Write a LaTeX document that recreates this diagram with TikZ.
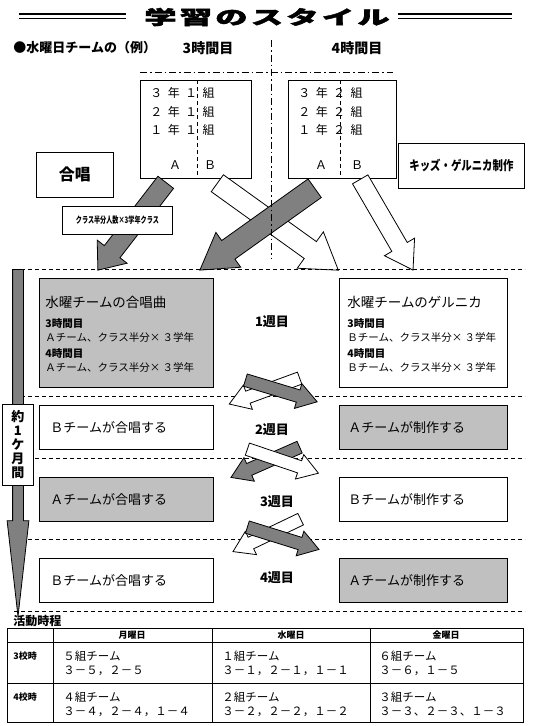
\documentclass[tikz,border=0pt]{standalone}
\usepackage{fontspec}
\setmainfont{Noto Sans CJK JP}
\usetikzlibrary{shapes.arrows}

\definecolor{darkfill}{HTML}{808080}
\definecolor{lightfill}{HTML}{C0C0C0}

\begin{document}
\begin{tikzpicture}[x=1pt,y=-1pt,line width=0.8pt,
	box/.style={draw, fill=white, anchor=north west, inner sep=0pt},
	weekbox/.style={box, minimum height=44pt, align=left, font=\fontsize{13}{13}\selectfont},
	blockarr/.style={single arrow, draw, inner xsep=0pt, anchor=tail},
	pairarr/.style={blockarr, inner ysep=6pt, single arrow head extend=6.5pt, single arrow tip angle=66, minimum height=75pt},
	sep/.style={dash pattern=on 4pt off 3pt},
	axis/.style={dash pattern=on 7pt off 3pt on 1.5pt off 3pt},
	hd/.style={font=\bfseries\fontsize{13}{13}\selectfont},
	cls/.style={anchor=west, inner sep=0pt, font=\fontsize{12}{12}\selectfont\addfontfeatures{LetterSpace=45}},
	sm/.style={anchor=west, inner sep=0pt, font=\fontsize{10.5}{10.5}\selectfont},
	smb/.style={anchor=west, inner sep=0pt, font=\bfseries\fontsize{10.5}{10.5}\selectfont},
	cell/.style={anchor=west, inner sep=0pt, font=\fontsize{11.5}{11.5}\selectfont}]
	\useasboundingbox (0,0) rectangle (535,726);
	\fill[white] (0,0) rectangle (535,726);

	% title
	\node[font=\bfseries\fontsize{19}{19}\selectfont] (title) at (267,17) {\scalebox{1.7}[1]{\addfontfeatures{LetterSpace=10,FakeBold=2}学習のスタイル}};
	\foreach \a/\b in {19/126,398/512}{
		\draw[line width=2pt] (\a,14) -- (\b,14);
		\draw (\a,18) -- (\b,18);
	}
	\node[hd, anchor=west, inner sep=0pt] (ex) at (13,48) {●水曜日チームの（例）};
	\node[hd, font=\bfseries\fontsize{14}{14}\selectfont] (p3) at (208,48) {3時間目};
	\node[hd, font=\bfseries\fontsize{14}{14}\selectfont] (p4) at (357,48) {4時間目};

	% classes
	\node[box, minimum width=111pt, minimum height=98pt] (c1) at (140,80) {};
	\node[box, minimum width=108pt, minimum height=98pt] (c2) at (288,80) {};
	\draw[sep] (197,80) -- (197,178);
	\draw[sep] (340,80) -- (340,178);
	\foreach \g/\y in {３/93,２/112,１/130}{
		\node[cls] (k\y) at (150,\y) {\g 年１組};
		\node[cls] (m\y) at (298,\y) {\g 年２組};
	}
	\foreach \x/\t in {175/Ａ,210/Ｂ,321/Ａ,357/Ｂ}
		\node[font=\fontsize{12}{12}\selectfont] (ab\x) at (\x,165) {\t};

	\node[box, minimum width=77pt, minimum height=45pt, font=\bfseries\fontsize{16}{16}\selectfont] (chorus) at (36,152) {合唱};
	\node[box, minimum width=126pt, minimum height=45pt, font=\bfseries\fontsize{13}{13}\selectfont] (kids) at (398,143) {\scalebox{0.8}[1]{キッズ・ゲルニカ制作}};

	% arrows to the weeks
	\node[blockarr, fill=white, inner ysep=10pt, single arrow head extend=12pt, single arrow tip angle=66, minimum height=149pt, rotate=-35.7] (w1) at (217,183) {};
	\node[blockarr, fill=darkfill, inner ysep=9.5pt, single arrow head extend=9pt, single arrow tip angle=78, minimum height=111pt, rotate=232.3] (g1) at (166,182) {};
	\node[blockarr, fill=darkfill, inner ysep=11pt, single arrow head extend=10pt, single arrow tip angle=63, minimum height=141pt, rotate=215.5] (g2) at (315,188) {};
	\node[blockarr, fill=white, inner ysep=8.5pt, single arrow head extend=8.5pt, single arrow tip angle=66, minimum height=105pt, rotate=-59.8] (w2) at (360,179) {};
	\node[box, minimum width=110pt, minimum height=28pt, font=\bfseries\fontsize{9}{9}\selectfont] (half) at (62,206) {\scalebox{0.68}[1]{クラス半分人数×3学年クラス}};

	\draw[axis] (271,40) -- (271,258);
	\draw[axis] (140,72) -- (393,72);

	% weeks
	\foreach \y in {269,396,458,539,611}
		\draw[sep] (14,\y) -- (525,\y);
	\node[blockarr, fill=darkfill, inner ysep=5pt, single arrow head extend=5.5pt, single arrow tip angle=13, minimum height=347pt, rotate=-90] (month) at (18,269) {};
	\node[box, minimum width=31pt, minimum height=81pt, align=center, font=\bfseries\fontsize{13}{14}\selectfont] (span) at (2,404) {約\\1\\ケ\\月\\間};

	\node[box, fill=lightfill, minimum width=174pt, minimum height=109pt] (cho1) at (39,278) {};
	\node[box, minimum width=168pt, minimum height=109pt] (gue1) at (339,278) {};
	\foreach \x/\tm/\w/\s in {45/Ａ/合唱曲/l,347/Ｂ/ゲルニカ/r}{
		\node[anchor=west, inner sep=0pt, font=\fontsize{13.5}{13.5}\selectfont] (ti\s) at (\x,302) {水曜チームの\w};
		\node[smb] (h3\s) at (\x,323) {3時間目};
		\node[sm] (a3\s) at (\x,338) {\tm チーム、クラス半分× ３学年};
		\node[smb] (h4\s) at (\x,353) {4時間目};
		\node[sm] (a4\s) at (\x,368) {\tm チーム、クラス半分× ３学年};
	}
	\foreach \y/\lc/\lt/\rc/\rt/\n in {405/white/Ｂ/lightfill/Ａ/2,477/lightfill/Ａ/white/Ｂ/3,558/white/Ｂ/lightfill/Ａ/4}{
		\node[weekbox, fill=\lc, text width=152pt, inner xsep=11pt] (cho\n) at (39,\y) {\lt チームが合唱する};
		\node[weekbox, fill=\rc, text width=150pt, inner xsep=9pt] (gue\n) at (339,\y) {\rt チームが制作する};
	}
	\foreach \n/\x/\y in {1/272/322,2/272/430,3/277/502,4/277/578}
		\node[hd] (wk\n) at (\x,\y) {\n 週目};

	% swaps
	\node[pairarr, fill=white, rotate=200.2] (s1w) at (300,378) {};
	\node[pairarr, fill=darkfill, rotate=-16.8] (s1g) at (245,380) {};
	\node[pairarr, fill=darkfill, rotate=203.8] (s2g) at (300,447) {};
	\node[pairarr, fill=white, rotate=-18.7] (s2w) at (247,449) {};
	\node[pairarr, fill=white, rotate=205.6] (s3w) at (301,519) {};
	\node[pairarr, fill=darkfill, rotate=-17.3] (s3g) at (247,527) {};

	% timetable
	\node[anchor=west, inner sep=0pt, font=\bfseries\fontsize{12}{12}\selectfont] (plan) at (13,621) {活動時程};
	\draw (7,628) rectangle (523,722);
	\draw (7,642) -- (523,642);
	\draw (7,683) -- (523,683);
	\foreach \x in {53,212,370}
		\draw (\x,628) -- (\x,722);
	\foreach \x/\dd in {132/月,291/水,446/金}
		\node[font=\bfseries\fontsize{9}{9}\selectfont] (day\x) at (\x,635) {\dd 曜日};
	\node[anchor=west, inner sep=0pt, font=\bfseries\fontsize{9}{9}\selectfont] (r3) at (13,656) {3校時};
	\node[anchor=west, inner sep=0pt, font=\bfseries\fontsize{9}{9}\selectfont] (r4) at (13,697) {4校時};
	\foreach \x/\n/\ua/\ub/\la/\lb in {63/1/５組チーム/３－５，２－５/４組チーム/３－４，２－４，１－４,222/2/１組チーム/３－１，２－１，１－１/２組チーム/３－２，２－２，１－２,379/3/６組チーム/３－６，１－５/３組チーム/３－３、２－３、１－３}{
		\node[cell] (ua\n) at (\x,656) {\ua};
		\node[cell] (ub\n) at (\x,671) {\ub};
		\node[cell] (la\n) at (\x,697) {\la};
		\node[cell] (lb\n) at (\x,712) {\lb};
	}
\end{tikzpicture}
\end{document}
